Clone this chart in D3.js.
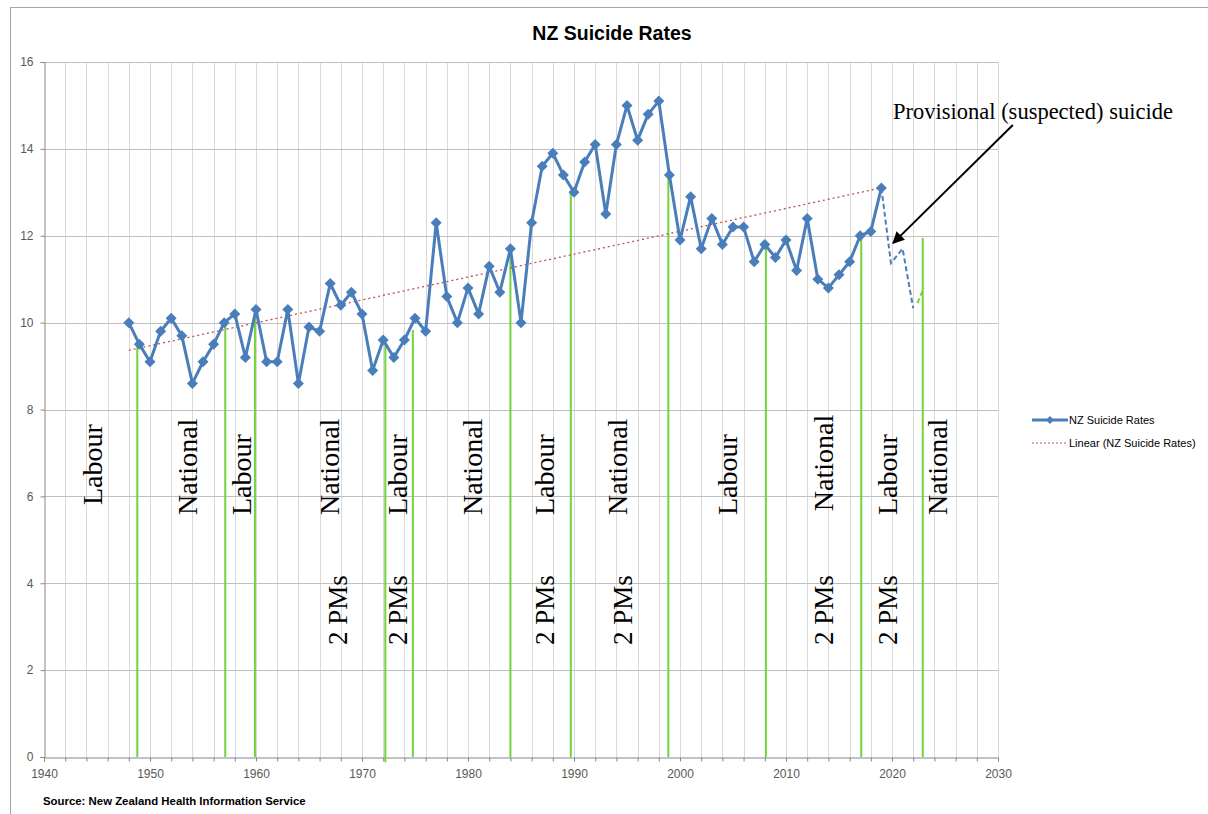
<!DOCTYPE html>
<html><head><meta charset="utf-8">
<script src="https://cdn.jsdelivr.net/npm/d3@7"></script>
<style>
html,body{margin:0;padding:0;background:#fff;}
svg{display:block;}
</style></head>
<body>
<svg id="chart" width="1208" height="814"></svg>
<script>
// ---- data ----
const years = d3.range(1948, 2020);
const rates = [10.0,9.5,9.1,9.8,10.1,9.7,8.6,9.1,9.5,10.0,
  10.2,9.2,10.3,9.1,9.1,10.3,8.6,9.9,9.8,10.9,
  10.4,10.7,10.2,8.9,9.6,9.2,9.6,10.1,9.8,12.3,
  10.6,10.0,10.8,10.2,11.3,10.7,11.7,10.0,12.3,13.6,
  13.9,13.4,13.0,13.7,14.1,12.5,14.1,15.0,14.2,14.8,
  15.1,13.4,11.9,12.9,11.7,12.4,11.8,12.2,12.2,11.4,
  11.8,11.5,11.9,11.2,12.4,11.0,10.8,11.1,11.4,12.0,
  12.1,13.1];
const provYears = [2019, 2019.9, 2021.0, 2022.0];
const provRates = [13.1, 11.37, 11.7, 10.33];
const provGreenYears = [2022.4, 2023.0];
const provGreenRates = [10.45, 10.8];
const electionYears = [1948.8,1957.1,1959.9,1972.2,1974.8,1984.0,1989.7,1998.9,2008.1,2017.1,2022.9];
const electionTops  = [9.5,10.0,10.3,9.5,9.83,11.67,13.0,13.4,11.74,12.0,11.95];
const electionBottoms=[0,0,0,-0.12,0,0,0,0,0,0,0];
const partyNames = ["Labour","National","Labour","National","Labour","National","Labour","National","Labour","National","Labour","National"];
const partyYears = [1945.47,1954.43,1959.53,1967.83,1974.25,1981.29,1988.11,1995.0,2005.4,2014.43,2020.44,2025.16];
const partyBase  = [5.8,5.57,5.57,5.57,5.57,5.57,5.57,5.57,5.57,5.66,5.57,5.57];
const pmYears = [1968.58,1974.25,1988.11,1995.44,2014.43,2020.47];
const pmBase = 2.58;
const xTicks = d3.range(1940, 2031, 10);
const yTicks = d3.range(0, 17, 2);
const title = "NZ Suicide Rates";
const source = "Source: New Zealand Health Information Service";
const annotation = "Provisional (suspected) suicide";
const arrowFrom = [2031.4, 14.55], arrowTo = [2020.1, 11.83];

// ---- layout ----
const svg = d3.select("#chart");
const L = 44, R = 998, T = 62, B = 757;
const x = d3.scaleLinear().domain([1940, 2030]).range([L, R]);
const y = d3.scaleLinear().domain([0, 16]).range([B, T]);
const blue = "#4a7ebb", green = "#72d33d";

// chart border
svg.append("rect").attr("x",10.5).attr("y",7.5).attr("width",1400).attr("height",1000)
  .attr("fill","none").attr("stroke","#a6a6a6").attr("stroke-width",1);

// vertical gridlines every 2 years
svg.append("g").selectAll("line").data(d3.range(1942, 2031, 2)).join("line")
  .attr("x1", d=>Math.round(x(d))+0.5).attr("x2", d=>Math.round(x(d))+0.5)
  .attr("y1", T).attr("y2", B).attr("stroke","#d9d9d9").attr("stroke-width",1);
// horizontal gridlines
svg.append("g").selectAll("line").data(yTicks.filter(d=>d>0)).join("line")
  .attr("x1", L).attr("x2", R)
  .attr("y1", d=>Math.round(y(d))+0.5).attr("y2", d=>Math.round(y(d))+0.5)
  .attr("stroke","#bfbfbf").attr("stroke-width",1);

// axes
const xAxis = d3.axisBottom(x).tickValues(d3.range(1940,2031,2)).tickSize(4)
  .tickFormat(d => d % 10 === 0 ? d : "");
const gx = svg.append("g").attr("transform",`translate(0,${B+0.5})`).call(xAxis);
gx.select(".domain").attr("stroke","#868686");
gx.selectAll(".tick line").attr("stroke","#868686");
gx.selectAll("text").attr("font-family","Liberation Sans, Arial, sans-serif")
  .attr("font-size","12px").attr("fill","#595959").attr("dy","0").attr("y",20);

const yAxis = d3.axisLeft(y).tickValues(yTicks).tickSize(4).tickFormat(d3.format("d"));
const gy = svg.append("g").attr("transform",`translate(${L+0.5},0)`).call(yAxis);
gy.select(".domain").attr("stroke","#868686");
gy.selectAll(".tick line").attr("stroke","#868686");
gy.selectAll("text").attr("font-family","Liberation Sans, Arial, sans-serif")
  .attr("font-size","12px").attr("fill","#595959").attr("x",-11);

// election lines
svg.append("g").selectAll("line").data(electionYears).join("line")
  .attr("x1",(d)=>x(d)).attr("x2",(d)=>x(d))
  .attr("y1",(d,i)=>y(electionBottoms[i])).attr("y2",(d,i)=>y(electionTops[i]))
  .attr("stroke",green).attr("stroke-width",2);

// trendline (least squares)
const n = years.length;
const mx = d3.mean(years), my = d3.mean(rates);
let sxy=0, sxx=0;
years.forEach((yr,i)=>{ sxy += (yr-mx)*(rates[i]-my); sxx += (yr-mx)*(yr-mx); });
const slope = sxy/sxx, icpt = my - slope*mx;
const trendX = [years[0], years[n-1]];
svg.append("line")
  .attr("x1", x(trendX[0])).attr("y1", y(icpt+slope*trendX[0]))
  .attr("x2", x(trendX[1])).attr("y2", y(icpt+slope*trendX[1]))
  .attr("stroke","#c0504d").attr("stroke-width",1.3).attr("stroke-dasharray","2,3");

// provisional dashed
const lineGen = d3.line().x(d=>x(d[0])).y(d=>y(d[1]));
svg.append("path").datum(provYears.map((d,i)=>[d,provRates[i]]))
  .attr("d", lineGen).attr("fill","none").attr("stroke",blue)
  .attr("stroke-width",2).attr("stroke-dasharray","5,3");
svg.append("path").datum(provGreenYears.map((d,i)=>[d,provGreenRates[i]]))
  .attr("d", lineGen).attr("fill","none").attr("stroke",green)
  .attr("stroke-width",2).attr("stroke-dasharray","5,3");

// main series
svg.append("path").datum(years.map((d,i)=>[d,rates[i]]))
  .attr("d", lineGen).attr("fill","none").attr("stroke",blue)
  .attr("stroke-width",3).attr("stroke-linejoin","round");
const diamond = "M0,-5.5L5.5,0L0,5.5L-5.5,0Z";
svg.append("g").selectAll("path").data(years).join("path")
  .attr("d", diamond)
  .attr("transform",(d,i)=>`translate(${x(d)},${y(rates[i])})`)
  .attr("fill",blue);

// party labels
const serif = "Liberation Serif, Times New Roman, serif";
svg.append("g").selectAll("text").data(partyNames).join("text")
  .attr("transform",(d,i)=>`translate(${x(partyYears[i])},${y(partyBase[i])}) rotate(-90)`)
  .attr("font-family",serif).attr("font-size","28px").attr("fill","#000")
  .text(d=>d);
svg.append("g").selectAll("text").data(pmYears).join("text")
  .attr("transform",d=>`translate(${x(d)},${y(pmBase)}) rotate(-90)`)
  .attr("font-family",serif).attr("font-size","27px").attr("fill","#000")
  .text("2 PMs");

// annotation + arrow
svg.append("defs").append("marker").attr("id","ah")
  .attr("viewBox","0 0 10 10").attr("refX",9).attr("refY",5)
  .attr("markerWidth",7).attr("markerHeight",6).attr("orient","auto")
  .attr("markerUnits","strokeWidth")
  .append("path").attr("d","M0,0L10,5L0,10Z").attr("fill","#000");
svg.append("line")
  .attr("x1", x(arrowFrom[0])).attr("y1", y(arrowFrom[1]))
  .attr("x2", x(arrowTo[0])).attr("y2", y(arrowTo[1]))
  .attr("stroke","#000").attr("stroke-width",2).attr("marker-end","url(#ah)");
svg.append("text").attr("x", 893).attr("y", 119)
  .attr("font-family",serif).attr("font-size","22.5px").attr("fill","#000")
  .text(annotation);

// title
svg.append("text").attr("x", 612).attr("y", 40).attr("text-anchor","middle")
  .attr("font-family","Liberation Sans, Arial, sans-serif").attr("font-weight","bold")
  .attr("font-size","19.5px").attr("fill","#000").text(title);

// source
svg.append("text").attr("x", 43).attr("y", 805)
  .attr("font-family","Liberation Sans, Arial, sans-serif").attr("font-weight","bold")
  .attr("font-size","11.4px").attr("fill","#000").text(source);

// legend
const lg = svg.append("g").attr("font-family","Liberation Sans, Arial, sans-serif")
  .attr("font-size","11px").attr("fill","#000");
lg.append("line").attr("x1",1032).attr("x2",1068).attr("y1",420).attr("y2",420)
  .attr("stroke",blue).attr("stroke-width",3);
lg.append("path").attr("d","M0,-4L4,0L0,4L-4,0Z").attr("transform","translate(1050,420)").attr("fill",blue);
lg.append("text").attr("x",1069).attr("y",424).text("NZ Suicide Rates");
lg.append("line").attr("x1",1032).attr("x2",1068).attr("y1",443).attr("y2",443)
  .attr("stroke","#c0504d").attr("stroke-width",1).attr("stroke-dasharray","2,2");
lg.append("text").attr("x",1069).attr("y",447).text("Linear (NZ Suicide Rates)");
</script>
</body></html>
